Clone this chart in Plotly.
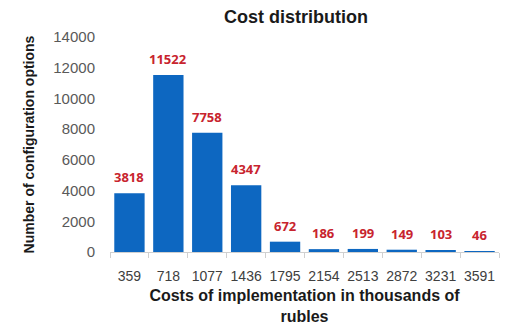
import plotly.graph_objects as go

categories = ["359", "718", "1077", "1436", "1795", "2154", "2513", "2872", "3231", "3591"]
counts = [3818, 11522, 7758, 4347, 672, 186, 199, 149, 103, 46]
y_ticks = [0, 2000, 4000, 6000, 8000, 10000, 12000, 14000]

fig = go.Figure(go.Bar(
    x=categories, y=counts,
    marker=dict(color="#0d67c1", line=dict(width=0)),
    cliponaxis=False,
))

for i, v in enumerate(counts):
    fig.add_annotation(
        x=i, y=v, xref="x", yref="y", text=str(v), showarrow=False, yanchor="bottom", yshift=5,
        font=dict(family="Open Sans", size=13, color="#c8242e", weight="bold"),
    )

fig.update_layout(
    width=519, height=325,
    margin=dict(l=110, r=20, t=37, b=73, autoexpand=False),
    paper_bgcolor="white", plot_bgcolor="white",
    bargap=0.22,
    showlegend=False,
    title=dict(text="<b>Cost distribution</b>", x=296 / 519, xanchor="center", y=1 - 17 / 325, yanchor="middle",
               font=dict(family="Liberation Sans", size=18, color="#1a1a1a")),
    xaxis=dict(
        type="category", range=[-0.5, len(categories) - 0.5],
        showline=True, linecolor="#d0d0d0", linewidth=1,
        ticks="outside", tickson="boundaries", ticklen=5, tickcolor="#d0d0d0",
        tickangle=0, ticklabelstandoff=11, automargin=False,
        tickfont=dict(family="Liberation Sans", size=14, color="#404040"),
        showgrid=False,
        title=dict(text="<b>Costs of implementation in thousands of<br>rubles</b>",
                   font=dict(family="Liberation Sans", size=16, color="#1a1a1a")),
    ),
    yaxis=dict(
        range=[0, 14000], tickvals=y_ticks, ticktext=[str(v) for v in y_ticks],
        showgrid=False, showline=False, zeroline=False,
        tickfont=dict(family="Liberation Sans", size=15, color="#595959"),
        ticks="", ticklabelstandoff=14, automargin=False,
        title=dict(text="<b>Number of configuration options</b>",
                   font=dict(family="Liberation Sans", size=14, color="#1a1a1a")),
    ),
)

fig.write_html("out.html")
